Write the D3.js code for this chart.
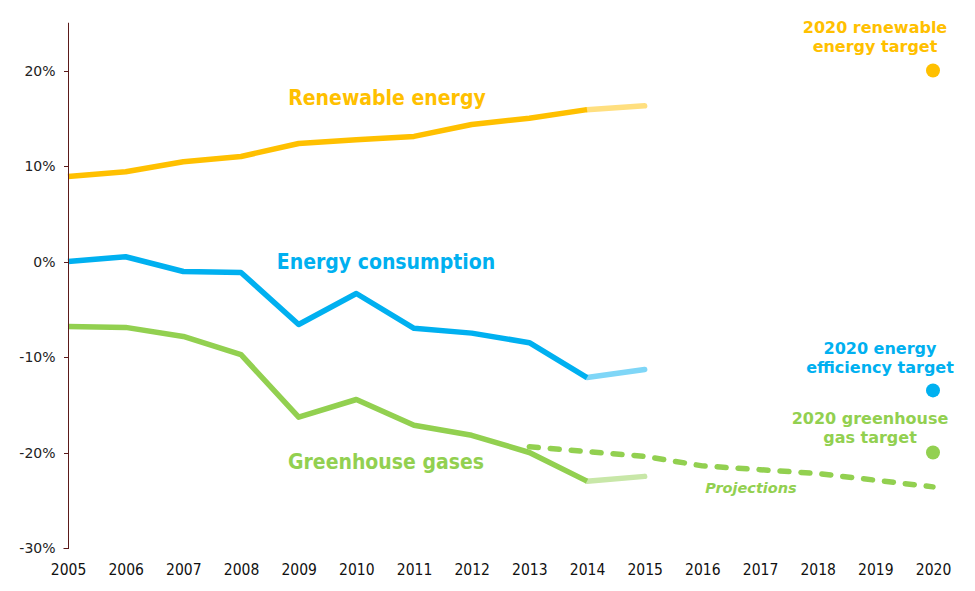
<!DOCTYPE html>
<html><head><meta charset="utf-8">
<script src="https://cdn.jsdelivr.net/npm/d3@7"></script>
<style>body{margin:0;background:#fff}svg{display:block}</style>
</head><body>
<svg id="c" width="975" height="591"></svg>
<script>
const years = d3.range(2005, 2021);
const yTicks = [-30, -20, -10, 0, 10, 20];
const histYears = [2005,2006,2007,2008,2009,2010,2011,2012,2013,2014];
const renewable = [8.9, 9.4, 10.45, 11.0, 12.35, 12.75, 13.1, 14.35, 15.0, 15.9];
const consumption = [0, 0.5, -1.05, -1.15, -6.6, -3.35, -7.0, -7.5, -8.5, -12.15];
const greenhouse = [-6.8, -6.9, -7.85, -9.75, -16.3, -14.45, -17.15, -18.2, -20.0, -23.0];
const estYears = [2014, 2015];
const renewableEst = [15.9, 16.3];
const consumptionEst = [-12.15, -11.3];
const greenhouseEst = [-23.0, -22.5];
const projYears = [2013,2014,2015,2016,2017,2018,2019,2020];
const greenhouseProj = [-19.4, -19.9, -20.4, -21.4, -21.8, -22.2, -22.9, -23.6];
const targets = [
  {name:"renewable", value:20, lines:["2020 renewable","energy target"]},
  {name:"efficiency", value:-13.5, lines:["2020 energy","efficiency target"]},
  {name:"ghg", value:-20, lines:["2020 greenhouse","gas target"]}
];
const colors = {renewable:"#FFC000", efficiency:"#00B0F0", ghg:"#92D050"};
const lightColors = {renewable:"#FFDF7F", efficiency:"#7FD6F7", ghg:"#C8E7A8"};

const svg = d3.select("#c");
const x = d3.scaleLinear().domain([2005, 2020]).range([68, 933]);
const y = d3.scaleLinear().domain([-30, 25]).range([548, 22.75]);

const line = d3.line().x(d => x(d[0])).y(d => y(d[1]));
function draw(xs, vs, color, dash, cap) {
  svg.append("path").datum(xs.map((t, i) => [t, vs[i]]))
    .attr("d", line).attr("fill", "none").attr("stroke", color)
    .attr("stroke-width", 5.5).attr("stroke-linejoin", "round")
    .attr("stroke-linecap", cap || "round")
    .attr("stroke-dasharray", dash || null);
}
draw(projYears, greenhouseProj, colors.ghg, "9,12");
draw(estYears, renewableEst, lightColors.renewable);
draw(estYears, consumptionEst, lightColors.efficiency);
draw(estYears, greenhouseEst, lightColors.ghg);
draw(histYears, renewable, colors.renewable, null, "butt");
draw(histYears, consumption, colors.efficiency, null, "butt");
draw(histYears, greenhouse, colors.ghg, null, "butt");

// y axis
const yAxis = d3.axisLeft(y).tickValues(yTicks).tickSize(5).tickPadding(8)
  .tickFormat(d => (d < 0 ? "-" + Math.abs(d) : d) + "%");
const ga = svg.append("g").attr("transform", "translate(68.5,0)").call(yAxis);
ga.select(".domain").attr("stroke", "#5B1A1A").attr("d", `M-5,${Math.round(y(-30))+0.5}H0V${y(25)}`);
ga.selectAll(".tick line").attr("stroke", "#5B1A1A").attr("shape-rendering", "crispEdges");
ga.selectAll(".tick text").attr("font-family", "DejaVu Sans, Verdana, sans-serif")
  .attr("font-size", 14).attr("fill", "#222").attr("dy", "0.35em");

// x labels
const xAxis = d3.axisBottom(x).tickValues(years).tickSize(0).tickPadding(16).tickFormat(d3.format("d"));
const gx = svg.append("g").attr("transform", `translate(0,${y(-30)})`).call(xAxis);
gx.select(".domain").remove();
gx.selectAll(".tick text").attr("font-family", "DejaVu Sans Condensed, Tahoma, sans-serif")
  .attr("font-size", 15.5).attr("fill", "#111");

// targets
svg.selectAll("circle.t").data(targets).join("circle")
  .attr("cx", x(2020)).attr("cy", d => y(d.value)).attr("r", 7)
  .attr("fill", d => colors[d.name]);

const bold = "DejaVu Sans, Verdana, sans-serif";
const tLabel = [
  {name:"renewable", cx:875, y0:33},
  {name:"efficiency", cx:880, y0:354},
  {name:"ghg", cx:870, y0:424}
];
tLabel.forEach((t, i) => {
  const txt = svg.append("text").attr("font-family", bold).attr("font-weight", "bold")
    .attr("font-size", 16).attr("fill", colors[t.name]).attr("text-anchor", "middle");
  targets[i].lines.forEach((s, j) => {
    txt.append("tspan").attr("x", t.cx).attr("y", t.y0 + j * 19).text(s);
  });
});

const seriesLabels = [
  {text:"Renewable energy", name:"renewable", cx:387, cy:105},
  {text:"Energy consumption", name:"efficiency", cx:386, cy:269},
  {text:"Greenhouse gases", name:"ghg", cx:386, cy:469}
];
svg.selectAll("text.s").data(seriesLabels).join("text")
  .attr("x", d => d.cx).attr("y", d => d.cy).attr("text-anchor", "middle")
  .attr("font-family", "DejaVu Sans Condensed, Tahoma, sans-serif").attr("font-weight", "bold")
  .attr("font-size", 21).attr("fill", d => colors[d.name]).text(d => d.text);

svg.append("text").attr("x", 751).attr("y", 493).attr("text-anchor", "middle")
  .attr("font-family", bold).attr("font-weight", "bold").attr("font-style", "italic")
  .attr("font-size", 14.5).attr("fill", colors.ghg).text("Projections");
</script>
</body></html>
